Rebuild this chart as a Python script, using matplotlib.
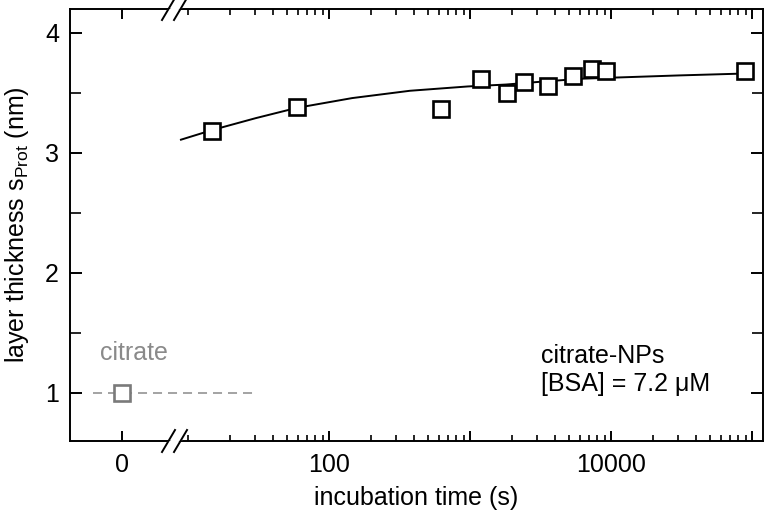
"""Layer thickness s_Prot vs incubation time, citrate-NPs, [BSA] = 7.2 uM.
Broken x axis: linear around 0, log beyond the break.
"""
import matplotlib
matplotlib.use('Agg')
import matplotlib.pyplot as plt
import matplotlib.ticker as mticker
import numpy as np
from matplotlib.lines import Line2D
from matplotlib.patches import Polygon

plt.rcParams.update({
    'font.family': ['Liberation Sans', 'DejaVu Sans'], 'font.size': 18,
    'mathtext.fontset': 'custom', 'mathtext.rm': 'Liberation Sans',
    'mathtext.it': 'Liberation Sans:italic',
    'axes.linewidth': 1.4, 'lines.scale_dashes': False,
    'xtick.direction': 'in', 'ytick.direction': 'in',
    'xtick.top': True, 'ytick.right': True,
})

# --- data ---
t_prot = [14.7, 59, 620, 1190, 1820, 2430, 3560, 5400, 7300, 9170, 89100]
s_prot = [3.18, 3.38, 3.37, 3.62, 3.50, 3.59, 3.56, 3.64, 3.70, 3.68, 3.68]

t_fit = [8.9, 14.8, 30.3, 58.9, 146, 375, 964, 1800, 3380, 6320, 11900, 30300, 78300, 89000]
s_fit = [3.11, 3.19, 3.29, 3.375, 3.457, 3.518, 3.554, 3.570, 3.596, 3.619, 3.630, 3.646, 3.660, 3.665]

t_citrate = [0]
s_citrate = [1.0]
citrate_span = [-0.63, 30]

x_major = [0, 100, 1000, 10000, 100000]
x_major_labels = ['0', '100', '', '10000', '']
x_minor = [m * 10 ** d for d in range(1, 5) for m in range(1, 10) if not (m == 1 and d > 1)]

# --- broken x scale: linear near 0, gap, then log ---
UNIT = 46.0      # px per second on the linear side
DEC = 141.0      # px per decade on the log side
GAP = 13.0       # px taken by the break
TL = 8.92        # first time value on the log side


def fwd(t):
    t = np.asarray(t, dtype=float)
    lin = (t - 1) * UNIT
    gap = (t - 1) / (TL - 1) * GAP
    lg = GAP + np.log10(np.maximum(t, TL) / TL) * DEC
    return np.where(t <= 1, lin, np.where(t < TL, gap, lg))


def inv(u):
    u = np.asarray(u, dtype=float)
    lin = 1 + u / UNIT
    gap = 1 + u / GAP * (TL - 1)
    lg = TL * 10 ** np.clip((u - GAP) / DEC, -10, 10)
    return np.where(u <= 0, lin, np.where(u < GAP, gap, lg))


fig = plt.figure(figsize=(7.72, 5.12), dpi=100)
ax = fig.add_axes([70 / 772, 1 - 441 / 512, 693 / 772, 432 / 512])
ax.set_xscale('function', functions=(fwd, inv))
ax.set_xlim(-1.13, 1.197e5)
ax.set_ylim(0.597, 4.2)

ax.plot(citrate_span, [s_citrate[0]] * 2, color='#8a8a8a', linewidth=1.1,
        dashes=(6.5, 4.3))
ax.plot(t_citrate, s_citrate, linestyle='None', marker='s', markersize=11,
        markerfacecolor='white', markeredgecolor='#7a7a7a', markeredgewidth=1.9)
ax.plot(t_fit, s_fit, color='black', linewidth=1.4)
ax.plot(t_prot, s_prot, linestyle='None', marker='s', markersize=11,
        markerfacecolor='white', markeredgecolor='black', markeredgewidth=1.9)

ax.xaxis.set_major_locator(mticker.FixedLocator(x_major))
ax.xaxis.set_major_formatter(mticker.FixedFormatter(x_major_labels))
ax.xaxis.set_minor_locator(mticker.FixedLocator(x_minor))
ax.xaxis.set_minor_formatter(mticker.NullFormatter())
ax.yaxis.set_major_locator(mticker.FixedLocator([1, 2, 3, 4]))
ax.yaxis.set_minor_locator(mticker.FixedLocator([1.5, 2.5, 3.5]))
ax.tick_params(axis='x', which='major', length=7.5, width=1.4, pad=9)
ax.tick_params(axis='x', which='minor', length=4.5, width=1.2)
ax.tick_params(axis='y', which='major', length=8.5, width=1.4, pad=8)
ax.tick_params(axis='y', which='minor', length=8, width=1.2)

ax.set_xlabel('incubation time (s)', labelpad=6)
ax.set_ylabel(r'layer thickness $\mathregular{s_{Prot}}$ (nm)', labelpad=10)

# axis break marks on bottom and top spines
W, H = 693.0, 432.0
for yb in (0.0, 1.0):
    cover = Polygon([((162.5 - 70) / W, yb - 3 / H), ((174 - 70) / W, yb - 3 / H),
                     ((187 - 70) / W, yb + 3 / H), ((175.5 - 70) / W, yb + 3 / H)],
                    closed=True, transform=ax.transAxes, facecolor='white',
                    edgecolor='none', clip_on=False, zorder=5)
    ax.add_patch(cover)
    for x0 in (162.0, 174.0):
        ax.add_line(Line2D([(x0 - 70) / W, (x0 + 13 - 70) / W],
                           [yb - 11 / H, yb + 11 / H], transform=ax.transAxes,
                           color='black', linewidth=1.4, clip_on=False, zorder=6))

ax.text((100 - 70) / W, 0.1875, 'citrate', transform=ax.transAxes,
        color='#8a8a8a', ha='left', va='baseline')
ax.text((541 - 70) / W, 0.1806, 'citrate-NPs', transform=ax.transAxes,
        ha='left', va='baseline')
ax.text((541 - 70) / W, 0.115, '[BSA] = 7.2 \u03bcM', transform=ax.transAxes,
        ha='left', va='baseline')

fig.savefig('out.png', dpi=100)
plt.close()
